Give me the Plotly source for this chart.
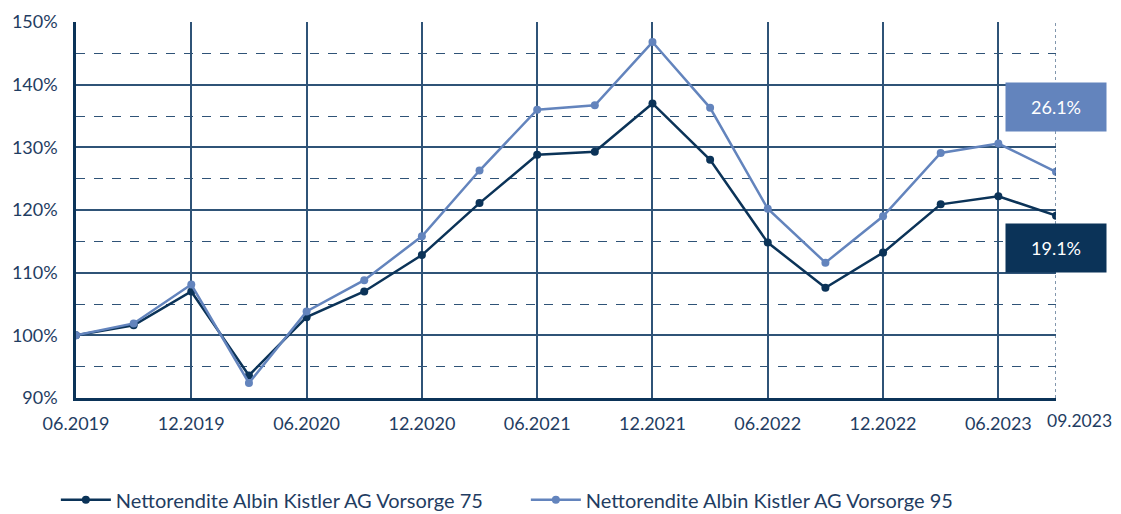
import plotly.graph_objects as go

quarters = ["06.2019", "09.2019", "12.2019", "03.2020", "06.2020", "09.2020",
            "12.2020", "03.2021", "06.2021", "09.2021", "12.2021", "03.2022",
            "06.2022", "09.2022", "12.2022", "03.2023", "06.2023", "09.2023"]
vorsorge75 = [100.0, 101.6, 107.0, 93.6, 102.9, 107.0, 112.8, 121.1, 128.8, 129.3,
              137.0, 128.0, 114.8, 107.6, 113.2, 120.9, 122.2, 119.1]
vorsorge95 = [100.0, 101.9, 108.1, 92.4, 103.8, 108.8, 115.8, 126.3, 136.0, 136.7,
              146.8, 136.3, 120.2, 111.6, 119.0, 129.1, 130.6, 126.1]
tick_labels = ["06.2019", "12.2019", "06.2020", "12.2020", "06.2021", "12.2021",
               "06.2022", "12.2022", "06.2023"]
y_ticks = [90, 100, 110, 120, 130, 140, 150]
names = ["Nettorendite Albin Kistler AG Vorsorge 75", "Nettorendite Albin Kistler AG Vorsorge 95"]

DARK = "#0b3358"
LIGHT = "#6384bd"
TEXT = "#1f3d62"
GRID = "#2f5377"
FONT = "Lato"

last = len(quarters) - 1

fig = go.Figure()
fig.add_trace(go.Scatter(x=quarters, y=vorsorge75, name=names[0], mode="lines+markers",
                         line=dict(color=DARK, width=2.5), marker=dict(size=8, color=DARK)))
fig.add_trace(go.Scatter(x=quarters, y=vorsorge95, name=names[1], mode="lines+markers",
                         line=dict(color=LIGHT, width=2.5), marker=dict(size=8, color=LIGHT)))

# page body has an 8px margin, so the figure is shifted by 8px: compensate
fig.update_layout(
    width=1113, height=506,
    margin=dict(l=68, r=65, t=14, b=116, autoexpand=False),
    plot_bgcolor="white", paper_bgcolor="white",
    font=dict(family=FONT, color=TEXT, size=18),
    showlegend=True,
    legend=dict(orientation="h", xref="container", x=0.043, xanchor="left",
                yref="container", y=0.028, yanchor="middle",
                font=dict(size=20, color=TEXT), itemwidth=50, entrywidth=405,
                entrywidthmode="pixels", bgcolor="rgba(0,0,0,0)"),
    xaxis=dict(type="category", categoryorder="array", categoryarray=quarters,
               range=[0, last], tickmode="array", tickvals=tick_labels,
               ticktext=tick_labels, showgrid=True, gridcolor=GRID, gridwidth=1.5,
               showline=True, linecolor=DARK, linewidth=2.5, ticks="", ticklen=0,
               ticklabelstandoff=8,
               tickfont=dict(size=18, color=TEXT), zeroline=False),
    yaxis=dict(range=[90, 150], tickmode="array", tickvals=y_ticks,
               ticktext=[f"{v}%" for v in y_ticks], showgrid=True, gridcolor=GRID,
               gridwidth=1.5, showline=True, linecolor=DARK, linewidth=2.5,
               ticks="", ticklabelstandoff=12, tickfont=dict(size=18, color=TEXT),
               zeroline=False,
               minor=dict(dtick=5, tick0=95, showgrid=True, gridcolor=GRID,
                          gridwidth=1.2, griddash="dash")),
)

# dashed right edge at last quarter
fig.add_shape(type="line", xref="x", yref="y", x0=last, x1=last,
              y0=90, y1=150, line=dict(color=GRID, width=1.2, dash="dot"))

# last-quarter tick label (sits at the right end, slightly higher)
fig.add_annotation(x=last, xref="x", y=0, yref="paper", yshift=-22, xshift=-11,
                   text=quarters[-1], showarrow=False, yanchor="middle", xanchor="left",
                   font=dict(size=17.5, color=TEXT))

# value boxes
fig.add_annotation(x=last, xref="x", y=vorsorge95[-1], yref="y", yshift=65,
                   text=f"{vorsorge95[-1] - 100:.1f}%", showarrow=False,
                   bgcolor=LIGHT, width=98, height=46, font=dict(size=18, color="white"))
fig.add_annotation(x=last, xref="x", y=vorsorge75[-1], yref="y", yshift=-32,
                   text=f"{vorsorge75[-1] - 100:.1f}%", showarrow=False,
                   bgcolor=DARK, width=98, height=46, font=dict(size=18, color="white"))

fig.write_html("out.html")
